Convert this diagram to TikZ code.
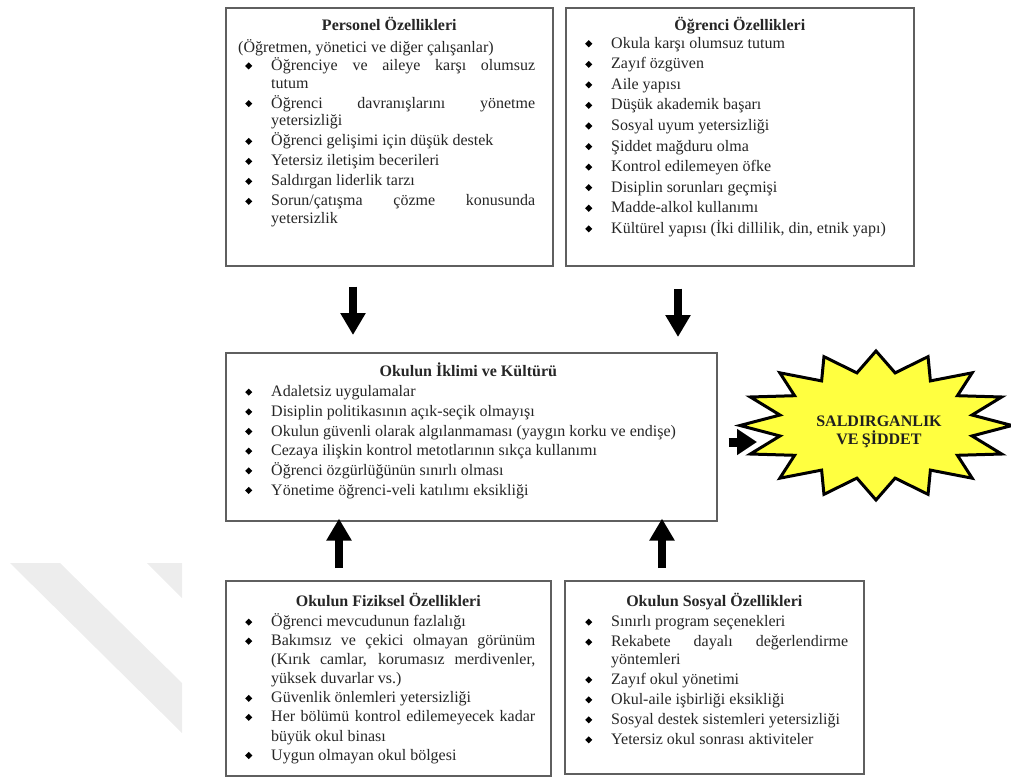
\documentclass[tikz,border=0pt]{standalone}
\usepackage{fontspec}
\setmainfont{Liberation Serif}
\usepackage{graphicx}
\usetikzlibrary{arrows.meta,calc}
\definecolor{txt}{RGB}{38,38,38}
\definecolor{boxline}{RGB}{95,95,95}
\definecolor{starfill}{RGB}{255,255,64}
\definecolor{wm}{RGB}{237,237,237}
\newcommand\bul{\textcolor{black}{\raisebox{1pt}{\rotatebox{45}{\rule{5pt}{5pt}}}}}
\newcommand\fitm{\hangindent=26pt\hangafter=1\makebox[26pt][l]{\bul}}
\newcommand\itm{\par\noindent\fitm}
\newcommand\lstfont[2]{\fontsize{16}{#1}\selectfont\setlength{\parskip}{#2}\hyphenpenalty=10000\color{txt}}
\newcommand\ttlfont{\fontsize{16}{18}\selectfont\bfseries\color{txt}}
\tikzset{
  box/.style={draw=boxline, line width=1.6pt, fill=white, anchor=north west, inner sep=0pt},
  ttl/.style={anchor=base, inner sep=0pt, font=\ttlfont},
  lst/.style={anchor=base west, inner sep=0pt, align=justify},
  barrow/.style={line width=8.5pt, black, -{Triangle[width=24pt,length=22pt]}},
}
\begin{document}
\begin{tikzpicture}[x=1pt,y=-1pt]
\useasboundingbox (0,0) rectangle (1011,778);
% watermark
\fill[wm] (10,563) -- (60,563) -- (182,683) -- (182,733) -- cycle;
\fill[wm] (147,563) -- (182,563) -- (182,598) -- cycle;

% boxes
\node[box, minimum width=327, minimum height=258] (pers) at (225,7) {};
\node[box, minimum width=348, minimum height=258] (ogr) at (565,7) {};
\node[box, minimum width=491, minimum height=168] (mid) at (225,352) {};
\node[box, minimum width=325, minimum height=195] (fiz) at (225,580) {};
\node[box, minimum width=299, minimum height=193] (sos) at (564,580) {};

% titles
\node[ttl] (perst) at ($(pers.north)+(0,24)$) {Personel Özellikleri};
\node[ttl] (ogrt) at ($(ogr.north)+(0,24)$) {Öğrenci Özellikleri};
\node[ttl] (midt) at ($(mid.north)+(-3,24.7)$) {Okulun İklimi ve Kültürü};
\node[ttl] (fizt) at ($(fiz.north)+(0,26.7)$) {Okulun Fiziksel Özellikleri};
\node[ttl] (sost) at ($(sos.north)+(0,26)$) {Okulun Sosyal Özellikleri};

% lists
\node[lst, text width=290] (persl) at ($(pers.north west)+(20,45.5)$) {\lstfont{17.7pt}{2.3pt}%
\hspace*{-7pt}(Öğretmen, yönetici ve diğer çalışanlar)\par\vspace{-2pt}
\itm Öğrenciye ve aileye karşı olumsuz\linebreak tutum
\itm Öğrenci davranışlarını yönetme\linebreak yetersizliği
\itm Öğrenci gelişimi için düşük destek
\itm Yetersiz iletişim becerileri
\itm Saldırgan liderlik tarzı
\itm Sorun/çatışma çözme konusunda\linebreak yetersizlik\par};

\node[lst, text width=320] (ogrl) at ($(ogr.north west)+(20,41.3)$) {\lstfont{17.8pt}{2.76pt}%
\fitm Okula karşı olumsuz tutum
\itm Zayıf özgüven
\itm Aile yapısı
\itm Düşük akademik başarı
\itm Sosyal uyum yetersizliği
\itm Şiddet mağduru olma
\itm Kontrol edilemeyen öfke
\itm Disiplin sorunları geçmişi
\itm Madde-alkol kullanımı
\itm Kültürel yapısı (İki dillilik, din, etnik yapı)\par};

\node[lst, text width=460] (midl) at ($(mid.north west)+(20,44.7)$) {\lstfont{17.8pt}{1.86pt}%
\fitm Adaletsiz uygulamalar
\itm Disiplin politikasının açık-seçik olmayışı
\itm Okulun güvenli olarak algılanmaması (yaygın korku ve endişe)
\itm Cezaya ilişkin kontrol metotlarının sıkça kullanımı
\itm Öğrenci özgürlüğünün sınırlı olması
\itm Yönetime öğrenci-veli katılımı eksikliği\par};

\node[lst, text width=290] (fizl) at ($(fiz.north west)+(20,46.7)$) {\lstfont{19.05pt}{0pt}%
\fitm Öğrenci mevcudunun fazlalığı
\itm Bakımsız ve çekici olmayan görünüm\linebreak (Kırık camlar, korumasız merdivenler,\linebreak yüksek duvarlar vs.)
\itm Güvenlik önlemleri yetersizliği
\itm Her bölümü kontrol edilemeyecek kadar\linebreak büyük okul binası
\itm Uygun olmayan okul bölgesi\par};

\node[lst, text width=263] (sosl) at ($(sos.north west)+(21,46.7)$) {\lstfont{17.7pt}{2.3pt}%
\fitm Sınırlı program seçenekleri
\itm Rekabete dayalı değerlendirme\linebreak yöntemleri
\itm Zayıf okul yönetimi
\itm Okul-aile işbirliği eksikliği
\itm Sosyal destek sistemleri yetersizliği
\itm Yetersiz okul sonrası aktiviteler\par};

% starburst
\draw[line width=3pt, fill=starfill, line join=miter]
  plot[samples at={0,...,31}, variable=\k]
  ({876+136*ifthenelse(mod(\k,2)==0,1,0.72)*cos(90+\k*11.25)},
   {425.5-74.5*ifthenelse(mod(\k,2)==0,1,0.72)*sin(90+\k*11.25)}) -- cycle;
\node[anchor=base, inner sep=0pt, text width=170, align=center] (burst) at (879,426.7)
  {\fontsize{16}{17.3}\selectfont\bfseries\color{black!88}SALDIRGANLIK\\VE ŞİDDET\par};

% connector coordinates
\coordinate (xa) at (353,0);
\coordinate (xb) at (678,0);
\coordinate (xc) at (339,0);
\coordinate (xd) at (662,0);
\coordinate (bursttip) at (757,442);

% arrows
\draw[barrow, shorten <=20pt, shorten >=17pt] (pers.south -| xa) -- (mid.north -| xa);
\draw[barrow, shorten <=22pt, shorten >=15pt] (ogr.south -| xb) -- (mid.north -| xb);
\draw[barrow, shorten <=12pt, shorten >=-3pt] (fiz.north -| xc) -- (mid.south -| xc);
\draw[barrow, shorten <=12pt, shorten >=-3pt] (sos.north -| xd) -- (mid.south -| xd);
\draw[line width=9pt, black, -{Triangle[width=25pt,length=20pt]}, shorten <=11pt] (mid.east |- bursttip) -- (bursttip);
\end{tikzpicture}
\end{document}
